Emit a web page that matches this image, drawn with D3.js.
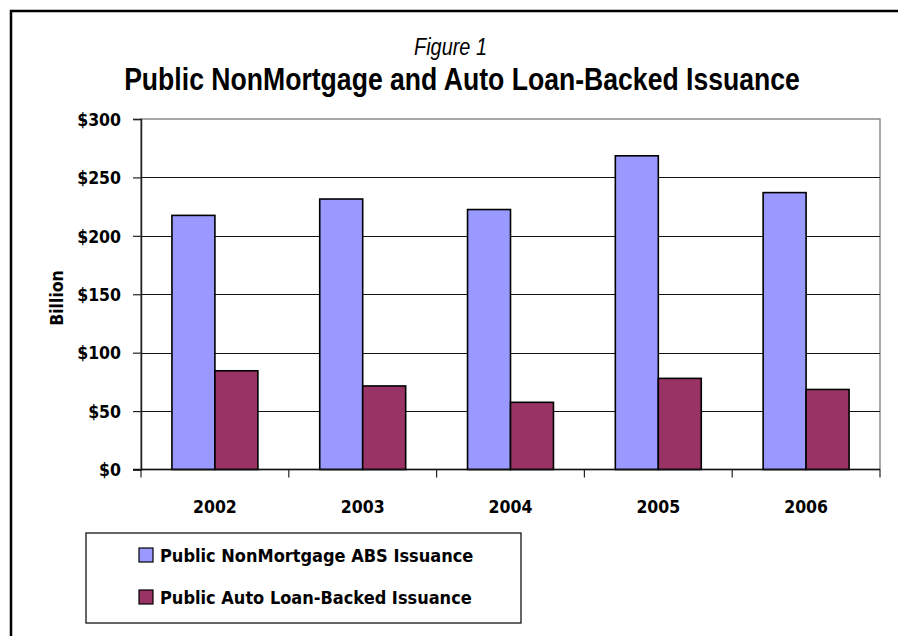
<!DOCTYPE html>
<html>
<head>
<meta charset="utf-8">
<script src="https://cdn.jsdelivr.net/npm/d3@7/dist/d3.min.js"></script>
<style>
  html, body { margin: 0; padding: 0; background: #fff; overflow: hidden; }
  svg { display: block; }
  .tick-label, .cat-label, .axis-title, .legend-text {
    font-family: "DejaVu Sans Condensed", "DejaVu Sans", sans-serif;
    font-stretch: condensed;
    font-weight: bold;
    fill: #000;
  }
  .title {
    font-family: "Liberation Sans", Arial, sans-serif;
    fill: #000;
  }
</style>
</head>
<body>
<svg id="chart" width="898" height="636"></svg>
<script>
// Annual issuance, billions of dollars
const years = ["2002", "2003", "2004", "2005", "2006"];
const nonMortgageABS = [217.5, 231.5, 222.5, 268.5, 237];
const autoLoanBacked = [84.5, 71.5, 57.5, 78, 68.5];
const seriesNames = ["Public NonMortgage ABS Issuance", "Public Auto Loan-Backed Issuance"];
const seriesColors = ["#9999FF", "#993366"];
const yTicks = [0, 50, 100, 150, 200, 250, 300];

const svg = d3.select("#chart");

// outer frame: left and top edges, the rest runs off the page
svg.append("path")
  .attr("d", "M11,640 V11 H902")
  .attr("fill", "none").attr("stroke", "#000").attr("stroke-width", 2.5);

// titles in a narrow face: a regular sans squeezed horizontally to a fixed run
function narrowTitle(txt, cx, baseline, width, size, style) {
  const g = svg.append("g");
  const t = g.append("text").attr("class", "title")
    .attr("x", 0).attr("y", 0)
    .attr("text-anchor", "middle")
    .style("font-size", size + "px")
    .style("font-style", style.italic ? "italic" : "normal")
    .style("font-weight", style.bold ? "bold" : "normal")
    .text(txt);
  const natural = t.node().getComputedTextLength();
  g.attr("transform", `translate(${cx},${baseline}) scale(${width / natural},1)`);
}
narrowTitle("Figure 1", 450.5, 55, 73, 24, { italic: true });
narrowTitle("Public NonMortgage and Auto Loan-Backed Issuance", 462, 90, 676, 31, { bold: true });

const plot = { left: 141, right: 880, top: 119, bottom: 469.5 };

const x0 = d3.scaleBand().domain(years).range([plot.left, plot.right]).padding(0);
const x1 = d3.scaleBand().domain([0, 1]).range([0, x0.bandwidth()])
  .paddingInner(0).paddingOuter(0.72);
const y = d3.scaleLinear().domain([0, 300]).range([plot.bottom, plot.top]);

// plot area outline
svg.append("rect")
  .attr("x", plot.left).attr("y", plot.top)
  .attr("width", plot.right - plot.left).attr("height", plot.bottom - plot.top)
  .attr("fill", "none").attr("stroke", "#8a8a8a").attr("stroke-width", 1.5);

// horizontal gridlines
svg.append("g").selectAll("line")
  .data(yTicks.filter(v => v > 0 && v < 300))
  .join("line")
  .attr("x1", plot.left).attr("x2", plot.right)
  .attr("y1", d => Math.round(y(d)) + 0.5).attr("y2", d => Math.round(y(d)) + 0.5)
  .attr("stroke", "#111").attr("stroke-width", 1);

// bars
const rows = years.map((yr, i) => ({ year: yr, values: [nonMortgageABS[i], autoLoanBacked[i]] }));
const groups = svg.append("g").selectAll("g")
  .data(rows).join("g")
  .attr("transform", d => `translate(${x0(d.year)},0)`);
groups.selectAll("rect")
  .data(d => d.values.map((v, k) => ({ v, k })))
  .join("rect")
  .attr("x", d => x1(d.k))
  .attr("width", x1.bandwidth())
  .attr("y", d => y(d.v))
  .attr("height", d => y(0) - y(d.v))
  .attr("fill", d => seriesColors[d.k])
  .attr("stroke", "#000").attr("stroke-width", 1.6);

// y axis
const yAxis = d3.axisLeft(y).tickValues(yTicks).tickSize(8).tickPadding(12)
  .tickFormat(d => "$" + d);
const gy = svg.append("g").attr("transform", `translate(${plot.left},0)`).call(yAxis);
gy.select(".domain").attr("stroke", "#222").attr("stroke-width", 1.5);
gy.selectAll(".tick line").attr("stroke", "#222").attr("stroke-width", 1.2);
gy.selectAll(".tick text").attr("class", "tick-label")
  .style("font-size", "17.5px").attr("dy", "0.36em");

// x axis: ticks at category boundaries
const gx = svg.append("g");
gx.append("line")
  .attr("x1", plot.left - 8).attr("x2", plot.right)
  .attr("y1", plot.bottom).attr("y2", plot.bottom)
  .attr("stroke", "#111").attr("stroke-width", 1.5);
const boundaries = years.map(yr => x0(yr)).concat([x0(years[years.length - 1]) + x0.bandwidth()]);
gx.selectAll(".xtick").data(boundaries).join("line")
  .attr("class", "xtick")
  .attr("x1", d => d).attr("x2", d => d)
  .attr("y1", plot.bottom).attr("y2", plot.bottom + 8)
  .attr("stroke", "#222").attr("stroke-width", 1.2);
gx.selectAll(".cat-label").data(years).join("text")
  .attr("class", "cat-label")
  .attr("x", d => x0(d) + x0.bandwidth() / 2)
  .attr("y", 513)
  .attr("text-anchor", "middle")
  .style("font-size", "17.5px")
  .text(d => d);

// y axis title
svg.append("text").attr("class", "axis-title")
  .attr("transform", "translate(63,298) rotate(-90)")
  .attr("text-anchor", "middle")
  .style("font-size", "17.5px")
  .text("Billion");

// legend
const legend = svg.append("g");
legend.append("rect")
  .attr("x", 86).attr("y", 533).attr("width", 435).attr("height", 90)
  .attr("fill", "#fff").attr("stroke", "#000").attr("stroke-width", 1.2);
const items = legend.selectAll(".item").data(seriesNames).join("g")
  .attr("class", "item")
  .attr("transform", (d, i) => `translate(139,${548 + i * 42})`);
items.append("rect")
  .attr("width", 14).attr("height", 14)
  .attr("fill", (d, i) => seriesColors[i])
  .attr("stroke", "#000").attr("stroke-width", 1.2);
items.append("text").attr("class", "legend-text")
  .attr("x", 21).attr("y", 14)
  .style("font-size", "18px")
  .text(d => d);
</script>
</body>
</html>
